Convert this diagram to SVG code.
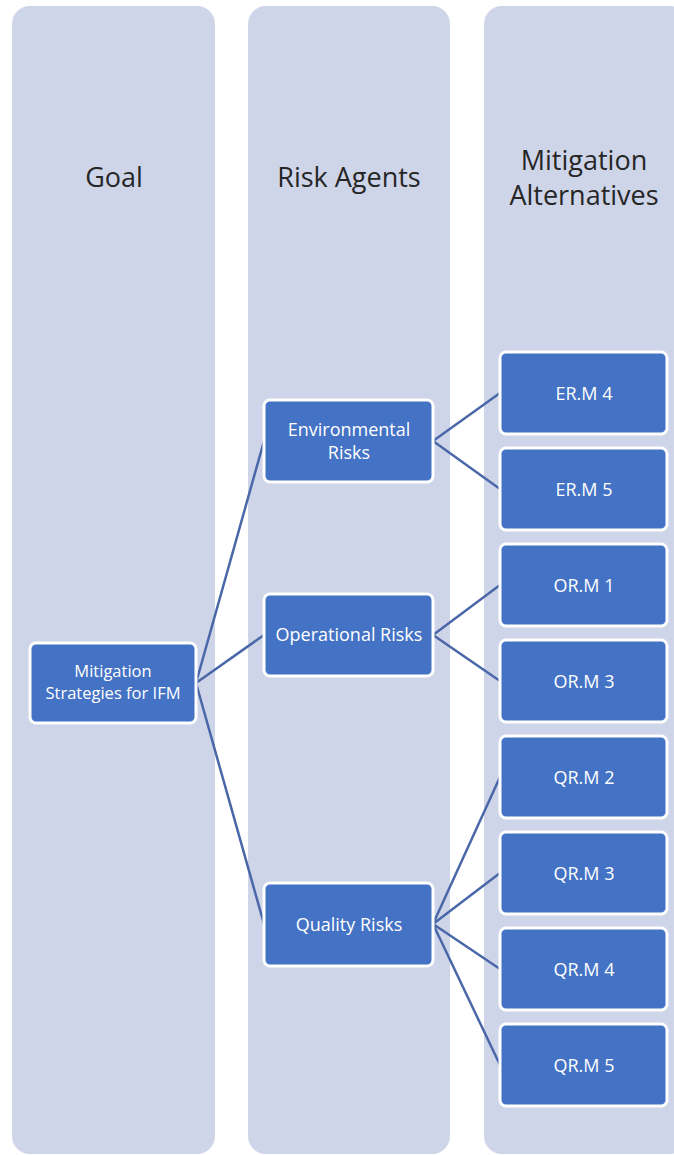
<svg xmlns="http://www.w3.org/2000/svg" width="674" height="1155" viewBox="0 0 674 1155">
  <style>
    .lane { fill: #cfd5e9; }
    .head { font-family: "Open Sans", "Liberation Sans", sans-serif; font-size: 27px; fill: #262626; text-anchor: middle; }
    .box { fill: #4472c4; stroke: #ffffff; stroke-width: 3; }
    .lbl { font-family: "Open Sans", "Liberation Sans", sans-serif; font-size: 18px; fill: #ffffff; text-anchor: middle; }
    .lbl-s { font-family: "Open Sans", "Liberation Sans", sans-serif; font-size: 16.5px; fill: #ffffff; text-anchor: middle; }
    .link { stroke: #4a68a8; stroke-width: 2.5; fill: none; }
  </style>

  <rect width="674" height="1155" fill="#ffffff"/>

  <!-- column lanes -->
  <g id="lanes">
    <rect class="lane" x="12" y="6" width="203" height="1148" rx="18"/>
    <rect class="lane" x="248" y="6" width="202" height="1148" rx="18"/>
    <rect class="lane" x="484" y="6" width="204" height="1148" rx="18"/>
    <text class="head" x="114" y="187">Goal</text>
    <text class="head" x="349" y="187">Risk Agents</text>
    <text class="head" x="584" y="170">Mitigation</text>
    <text class="head" x="584" y="205">Alternatives</text>
  </g>

  <!-- connectors -->
  <g id="connectors">
    <path class="link" d="M196 683 L264 441 M196 683 L264 635 M196 683 L264 924"/>
    <path class="link" d="M433 441 L500 393 M433 441 L500 489"/>
    <path class="link" d="M433 635 L500 585 M433 635 L500 681"/>
    <path class="link" d="M433 924 L500 777 M433 924 L500 873 M433 924 L500 969 M433 924 L500 1065"/>
  </g>

  <g id="goal">
    <rect class="box" x="30" y="643" width="166" height="80" rx="6"/>
    <text class="lbl-s" x="113" y="677">Mitigation</text>
    <text class="lbl-s" x="113" y="699">Strategies for IFM</text>
  </g>

  <g id="environmental-risks">
    <rect class="box" x="264" y="400" width="169" height="82" rx="6"/>
    <text class="lbl" x="349" y="436">Environmental</text>
    <text class="lbl" x="349" y="459">Risks</text>
  </g>
  <g id="operational-risks">
    <rect class="box" x="264" y="594" width="169" height="82" rx="6"/>
    <text class="lbl" x="349" y="641">Operational Risks</text>
  </g>
  <g id="quality-risks">
    <rect class="box" x="264" y="883" width="169" height="83" rx="6"/>
    <text class="lbl" x="349" y="931">Quality Risks</text>
  </g>

  <g id="erm4">
    <rect class="box" x="500" y="352" width="167" height="82" rx="6"/>
    <text class="lbl" x="584" y="400">ER.M 4</text>
  </g>
  <g id="erm5">
    <rect class="box" x="500" y="448" width="167" height="82" rx="6"/>
    <text class="lbl" x="584" y="496">ER.M 5</text>
  </g>
  <g id="orm1">
    <rect class="box" x="500" y="544" width="167" height="82" rx="6"/>
    <text class="lbl" x="584" y="592">OR.M 1</text>
  </g>
  <g id="orm3">
    <rect class="box" x="500" y="640" width="167" height="82" rx="6"/>
    <text class="lbl" x="584" y="688">OR.M 3</text>
  </g>
  <g id="qrm2">
    <rect class="box" x="500" y="736" width="167" height="82" rx="6"/>
    <text class="lbl" x="584" y="784">QR.M 2</text>
  </g>
  <g id="qrm3">
    <rect class="box" x="500" y="832" width="167" height="82" rx="6"/>
    <text class="lbl" x="584" y="880">QR.M 3</text>
  </g>
  <g id="qrm4">
    <rect class="box" x="500" y="928" width="167" height="82" rx="6"/>
    <text class="lbl" x="584" y="976">QR.M 4</text>
  </g>
  <g id="qrm5">
    <rect class="box" x="500" y="1024" width="167" height="82" rx="6"/>
    <text class="lbl" x="584" y="1072">QR.M 5</text>
  </g>
</svg>
